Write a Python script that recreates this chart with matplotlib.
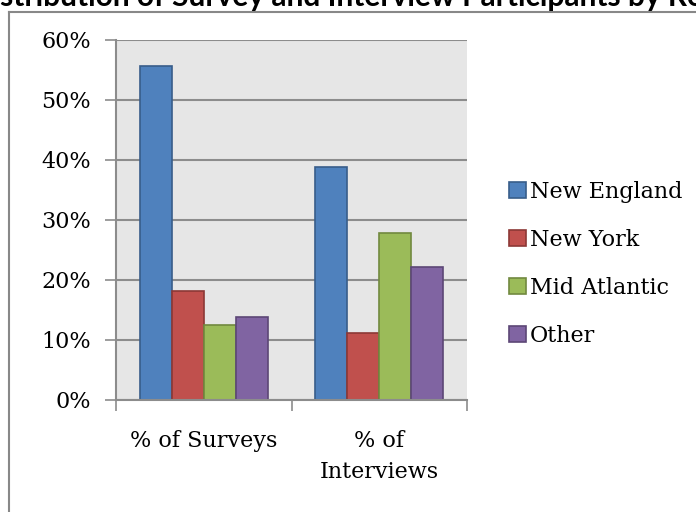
import numpy as np
import matplotlib
matplotlib.use('Agg')
import matplotlib.pyplot as plt
from matplotlib.lines import Line2D

# data
categories = ['% of Surveys', '% of\nInterviews']
regions = ['New England', 'New York', 'Mid Atlantic', 'Other']
surveys = [55.6, 18.1, 12.5, 13.9]
interviews = [38.9, 11.1, 27.8, 22.2]
yticks = [0, 10, 20, 30, 40, 50, 60]

fills = ['#4F81BD', '#C0504D', '#9BBB59', '#8064A2']
edges = ['#385D8A', '#8C3836', '#71893F', '#5C4776']

plt.rcParams['font.family'] = 'DejaVu Serif'

fig = plt.figure(figsize=(6.96, 5.12), dpi=100)
ax = fig.add_axes([116/696, 112/512, 351/696, 360/512])
ax.set_facecolor('#E6E6E6')

values = np.array([surveys, interviews])  # category x region
x = np.arange(len(categories))
w = 0.1825
for i, reg in enumerate(regions):
    ax.bar(x - 1.5*w + i*w, values[:, i], width=w, color=fills[i],
           edgecolor=edges[i], linewidth=1.2, label=reg, zorder=3)

ax.set_xlim(-0.5, 1.5)
ax.set_ylim(0, 60)
ax.set_yticks(yticks)
ax.set_yticklabels(['%d%%' % t for t in yticks], fontsize=16)
ax.yaxis.grid(True, color='#8C8C8C', linewidth=1.5, zorder=1)
ax.tick_params(axis='y', length=8, width=1.2, color='#8C8C8C', pad=10)

# category labels between boundary ticks
ax.set_xticks([-0.5, 0.5, 1.5])
ax.set_xticklabels([])
ax.tick_params(axis='x', length=8, width=1.2, color='#8C8C8C')
for xi, lab in zip(x, categories):
    ax.text(xi, -5.0, lab, ha='center', va='top', fontsize=16,
            linespacing=1.5)

for s in ['top', 'right']:
    ax.spines[s].set_visible(False)
for s in ['left', 'bottom']:
    ax.spines[s].set_color('#8C8C8C')
    ax.spines[s].set_linewidth(1.5)
    ax.spines[s].set_zorder(4)

leg = ax.legend(loc='center left', bbox_to_anchor=(1.063, 0.379), frameon=False,
                fontsize=16, handlelength=0.75, handleheight=0.75,
                handletextpad=0.2, labelspacing=1.17)

# outer chart border (runs off the right and bottom edges)
fig.add_artist(Line2D([8.5/696, 8.5/696], [1 - 11.5/512, -0.1], color='#888888',
                      linewidth=1.5, transform=fig.transFigure))
fig.add_artist(Line2D([8.5/696, 1.1], [1 - 11.5/512, 1 - 11.5/512], color='#888888',
                      linewidth=1.5, transform=fig.transFigure))

fig.text(-30/696, 1 - 6/512, 'Distribution of Survey and Interview Participants by Region',
         ha='left', va='baseline', fontsize=21.5, fontweight='bold', family='Lato')

fig.savefig('out.png', dpi=100)
